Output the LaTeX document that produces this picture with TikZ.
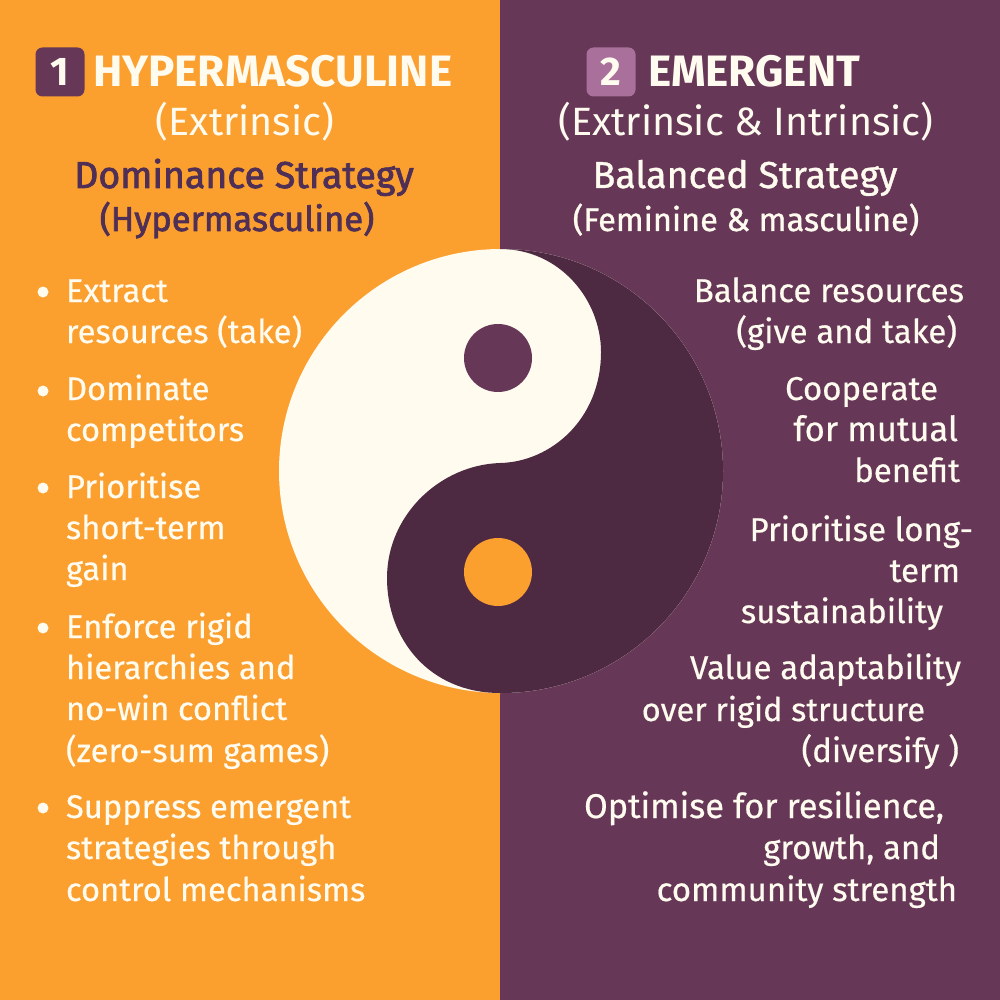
\documentclass[tikz,border=0pt]{standalone}
\usepackage{fontspec}
\setmainfont{Fira Sans}
\newfontfamily\medf[FakeBold=0.5]{Fira Sans}
\newfontfamily\semif[FakeBold=1.0]{Fira Sans}
\newfontfamily\heavyf[FakeBold=2.0]{Fira Sans}
\definecolor{orangebg}{HTML}{FB9F2F}
\definecolor{plumbg}{HTML}{663756}
\definecolor{plumdark}{HTML}{4D2A42}
\definecolor{cream}{HTML}{FFFBEF}
\definecolor{badgeB}{HTML}{A9709B}
\definecolor{txtdark}{HTML}{4F2F56}
\newcommand{\fs}[1]{\fontsize{#1}{#1}\selectfont}
\tikzset{
 x=1pt,y=-1pt,
 lbl/.style={inner sep=0pt,outer sep=0pt,text=cream},
 li/.style={lbl,anchor=base west,font=\medf\fs{32.7}},
 ri/.style={lbl,anchor=base east,font=\medf\fs{33}},
 bul/.style={circle,fill=cream,minimum size=11pt,inner sep=0pt},
 head/.style={lbl,font=\bfseries\fs{44},anchor=base west},
 sub/.style={lbl,font=\fs{39.5},anchor=base},
 strat/.style={lbl,font=\semif\fs{37.5},anchor=base},
 stratsub/.style={lbl,font=\semif\fs{32.5},anchor=base},
 stratdark/.style={lbl,text=txtdark,font=\heavyf\fs{37.5},anchor=base},
 stratsubdark/.style={lbl,text=txtdark,font=\heavyf\fs{34.5},anchor=base},
 badge/.style={rounded corners=7pt,minimum size=49pt,inner sep=0pt,font=\bfseries\fs{40},text=cream}
}
\begin{document}
\begin{tikzpicture}
\useasboundingbox (0,0) rectangle (1000,1000);
\fill[orangebg] (0,0) rectangle (500,1000);
\fill[plumbg] (500,0) rectangle (1000,1000);
% yin-yang
\fill[cream] (501,471) circle[radius=222];
\begin{scope}
\clip (501,471) circle[radius=222];
\fill[plumdark] (500,249) .. controls (560,249) and (601,300) .. (601,352) .. controls (601,420) and (550,462) .. (500,463) .. controls (440,465) and (387,515) .. (387,578) .. controls (387,640) and (430,693) .. (500,693) -- (760,693) -- (760,249) -- cycle;
\end{scope}
\fill[plumbg] (498,358) circle[radius=34];
\fill[orangebg] (498,572) circle[radius=34];
% headers
\node[badge,fill=plumbg] (b1) at (60,72) {1};
\node[head] (h1) at (93,87) {HYPERMASCULINE};
\node[sub] (s1) at (245,135.5) {(Extrinsic)};
\node[stratdark] (d1) at (244,188) {Dominance Strategy};
\node[stratsubdark] (d2) at (237,231) {(Hypermasculine)};
\node[badge,fill=badgeB] (b2) at (611,72) {2};
\node[head] (h2) at (648,87) {EMERGENT};
\node[sub] (s2) at (746,135.5) {(Extrinsic \& Intrinsic)};
\node[strat] (d3) at (745,188) {Balanced Strategy};
\node[stratsub] (d4) at (746,231) {(Feminine \& masculine)};
% left list
\node[li] (l1) at (66,302) {Extract};
\node[li] (l2) at (66,343) {resources (take)};
\node[li] (l3) at (66,400) {Dominate};
\node[li] (l4) at (66,441) {competitors};
\node[li] (l5) at (66,498) {Prioritise};
\node[li] (l6) at (66,539) {short-term};
\node[li] (l7) at (66,580) {gain};
\node[li] (l8) at (66,638) {Enforce rigid};
\node[li] (l9) at (66,679) {hierarchies and};
\node[li] (l10) at (66,720) {no-win conflict};
\node[li] (l11) at (66,762) {(zero-sum games)};
\node[li] (l12) at (66,818) {Suppress emergent};
\node[li] (l13) at (66,859) {strategies through};
\node[li] (l14) at (66,901) {control mechanisms};
\foreach \n/\y in {a/292,b/391,c/488,d/628,e/808}
  \node[bul] (bul\n) at (43,\y) {};
% right list
\node[ri] (r1) at (964,302) {Balance resources};
\node[ri] (r2) at (957,343) {(give and take)};
\node[ri] (r3) at (938,400) {Cooperate};
\node[ri,font=\medf\fs{34.5}] (r4) at (958,441) {for mutual};
\node[ri] (r5) at (960,482) {benefit};
\node[ri] (r6) at (973,541) {Prioritise long-};
\node[ri] (r7) at (960,582) {term};
\node[ri] (r8) at (943,623) {sustainability};
\node[ri] (r9) at (961,679) {Value adaptability};
\node[ri,font=\medf\fs{32.5}] (r10) at (925,721) {over rigid structure};
\node[ri] (r11) at (959,762) {(diversify )};
\node[ri,font=\medf\fs{34.3}] (r12) at (944,818) {Optimise for resilience,};
\node[ri] (r13) at (940,859) {growth, and};
\node[ri] (r14) at (957,901) {community strength};
\end{tikzpicture}
\end{document}
